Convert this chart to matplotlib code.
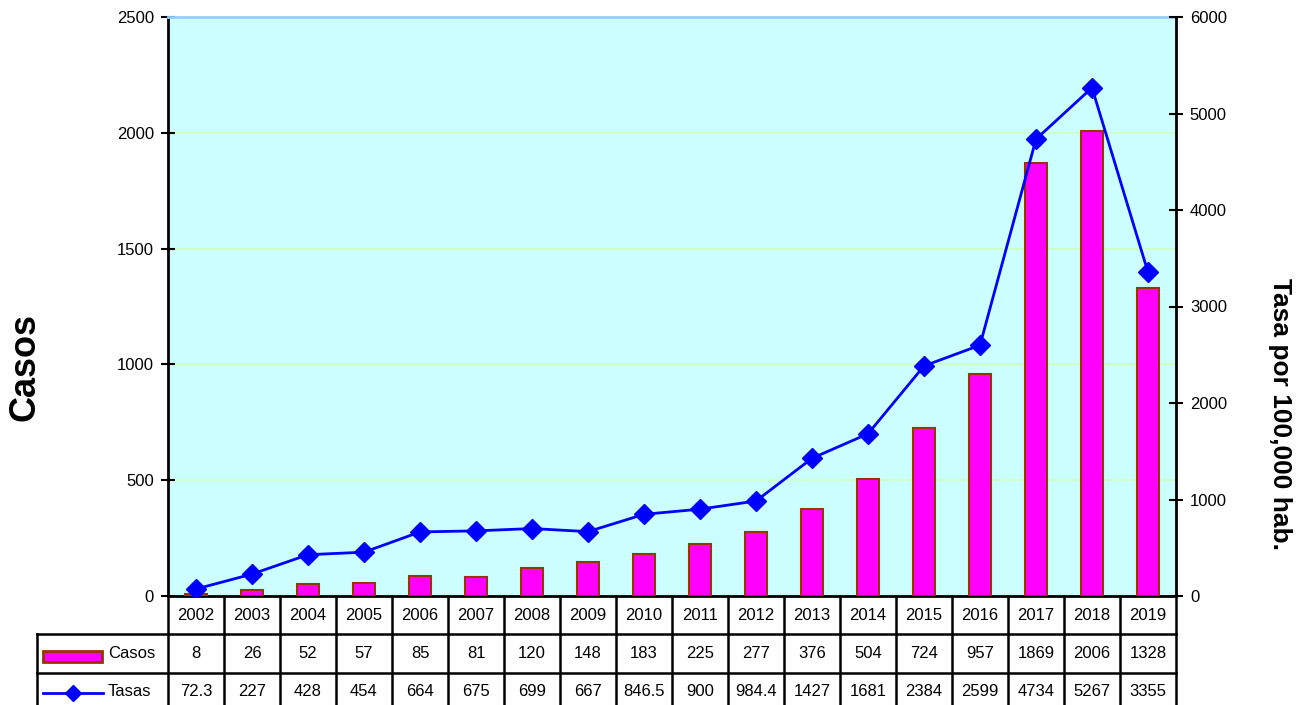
import matplotlib.pyplot as plt
import numpy as np

plt.rcParams['font.family'] = ['Liberation Sans', 'DejaVu Sans']

# Data
years = ['2002', '2003', '2004', '2005', '2006', '2007', '2008', '2009', '2010',
         '2011', '2012', '2013', '2014', '2015', '2016', '2017', '2018', '2019']
casos = [8, 26, 52, 57, 85, 81, 120, 148, 183, 225, 277, 376, 504, 724, 957,
         1869, 2006, 1328]
tasas = [72.3, 227, 428, 454, 664, 675, 699, 667, 846.5, 900, 984.4, 1427,
         1681, 2384, 2599, 4734, 5267, 3355]
tasas_txt = ['72.3', '227', '428', '454', '664', '675', '699', '667', '846.5',
             '900', '984.4', '1427', '1681', '2384', '2599', '4734', '5267', '3355']

bar_color = '#ff00ff'
bar_edge = '#993300'
line_color = '#0000ff'

W, H = 1307, 705
fig = plt.figure(figsize=(W / 100, H / 100), dpi=100)
ax = fig.add_axes([168 / W, 1 - 596 / H, 1008 / W, 579 / H])
ax2 = ax.twinx()

x = np.arange(len(years))

# Bars (left axis)
ax.set_facecolor('#ccffff')
ax.bar(x, casos, width=0.4, color=bar_color, edgecolor=bar_edge, linewidth=1.5, zorder=3)
ax.set_xlim(-0.5, len(years) - 0.5)
ax.set_ylim(0, 2500)
ax.set_yticks(np.arange(0, 2501, 500))
ax.set_xticks([])
for v in range(500, 2500, 500):
    ax.axhline(v, color='#ccffcc', linewidth=1.5, zorder=1)

# Line (right axis)
ax2.plot(x, tasas, color=line_color, linewidth=2, marker='D', markersize=10, zorder=4)
ax2.set_ylim(0, 6000)
ax2.set_yticks(np.arange(0, 6001, 1000))

for a in (ax, ax2):
    a.tick_params(axis='y', direction='inout', length=10, width=1.5, labelsize=12, pad=5)
ax.spines['left'].set_linewidth(2)
ax.spines['bottom'].set_linewidth(2)
ax.spines['right'].set_visible(False)
ax.spines['top'].set_color('#99ccff')
ax.spines['top'].set_linewidth(2)
ax2.spines['right'].set_linewidth(2)
ax2.spines['left'].set_visible(False)
ax2.spines['bottom'].set_visible(False)
ax2.spines['top'].set_visible(False)

fig.text(25 / W, 1 - 367 / H, 'Casos', rotation=90, fontsize=26, fontweight='bold',
         ha='center', va='center')
fig.text(1280 / W, 1 - 414 / H, 'Tasa por 100,000 hab.', rotation=270, fontsize=19,
         fontweight='bold', ha='center', va='center')

# Data table below the plot
tr = ax.get_xaxis_transform()
px = 1008 / len(years)          # pixels per category
ppy = 579                        # pixels per axes unit (vertical)
def yax(ypix):
    return (596 - ypix) / ppy
def xdat(xpix):
    return -0.5 + (xpix - 168) / px

r1, r2, r3 = yax(634), yax(673), yax(712)
x_left = xdat(37)
x_right = len(years) - 0.5
lk = dict(color='black', linewidth=1.8, transform=tr, clip_on=False, zorder=5)
ax.plot([x_left, x_right], [r1, r1], **lk)
ax.plot([x_left, x_right], [r2, r2], **lk)
ax.plot([x_left, x_right], [r3, r3], **lk)
ax.plot([x_left, x_left], [r1, r3], **lk)
for i in range(len(years) + 1):
    ax.plot([i - 0.5, i - 0.5], [0, r3], **lk)

yc_year, yc_casos, yc_tasas = yax(615), yax(653), yax(692)
for i in range(len(years)):
    ax.text(i, yc_year, years[i], transform=tr, ha='center', va='center', fontsize=12)
    ax.text(i, yc_casos, str(casos[i]), transform=tr, ha='center', va='center', fontsize=12)
    ax.text(i, yc_tasas, tasas_txt[i], transform=tr, ha='center', va='center', fontsize=12)

# Legend keys in the row-label column
sw = plt.Rectangle((xdat(43), yax(662)), xdat(102) - xdat(43), yax(651) - yax(662),
                   transform=tr, facecolor=bar_color, edgecolor=bar_edge, linewidth=2,
                   clip_on=False)
ax.add_patch(sw)
ax.text(xdat(108), yc_casos, 'Casos', transform=tr, ha='left', va='center', fontsize=12)
ax.plot([xdat(43), xdat(103)], [yax(693), yax(693)], color=line_color, linewidth=2,
        transform=tr, clip_on=False)
ax.plot([xdat(73)], [yax(693)], color=line_color, marker='D', markersize=8,
        transform=tr, clip_on=False)
ax.text(xdat(108), yc_tasas, 'Tasas', transform=tr, ha='left', va='center', fontsize=12)

fig.savefig('out.png', dpi=100)
